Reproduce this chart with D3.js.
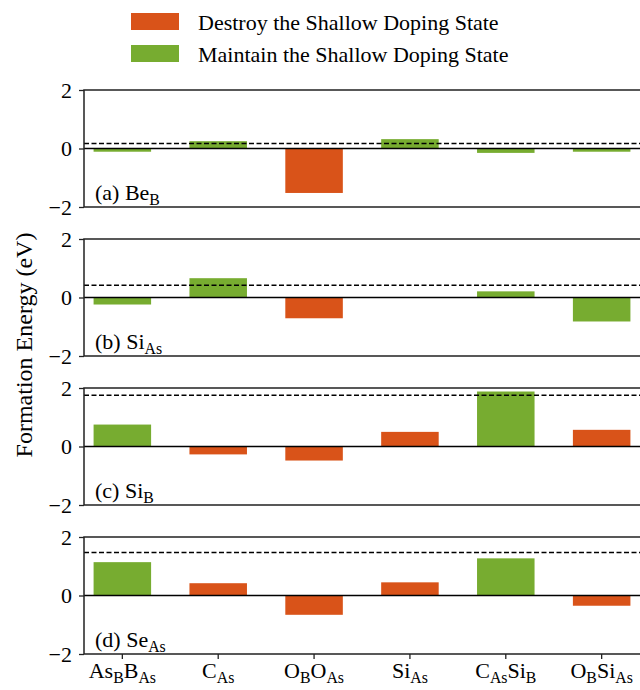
<!DOCTYPE html>
<html>
<head>
<style>
  body { margin: 0; background: #fff; }
  text { font-family: "Liberation Serif", "Times New Roman", serif; fill: #000; }
</style>
</head>
<body>
<script src="https://cdn.jsdelivr.net/npm/d3@7"></script>
<script>

// categories, written as [base, subscript] pieces
const categories = ['AsBBAs', 'CAs', 'OBOAs', 'SiAs', 'CAsSiB', 'OBSiAs'];
const categoryLabels = [
  [['As', 'B'], ['B', 'As']],
  [['C', 'As']],
  [['O', 'B'], ['O', 'As']],
  [['Si', 'As']],
  [['C', 'As'], ['Si', 'B']],
  [['O', 'B'], ['Si', 'As']]
];

const panelLabels = [['(a) Be', 'B'], ['(b) Si', 'As'], ['(c) Si', 'B'], ['(d) Se', 'As']];

// formation energies (eV), null = no bar
const valuesBeB  = [-0.11, 0.25, -1.52, 0.32, -0.15, -0.11];
const valuesSiAs = [-0.24, 0.66, -0.71, null, 0.21, -0.82];
const valuesSiB  = [0.75, -0.27, -0.48, 0.50, 1.88, 0.57];
const valuesSeAs = [1.14, 0.42, -0.66, 0.45, 1.27, -0.35];

// D = destroy, M = maintain
const stateBeB  = ['M', 'M', 'D', 'M', 'M', 'M'];
const stateSiAs = ['M', 'M', 'D', 'M', 'M', 'M'];
const stateSiB  = ['M', 'D', 'D', 'D', 'M', 'D'];
const stateSeAs = ['M', 'D', 'D', 'D', 'M', 'D'];

const thresholds = [0.17, 0.42, 1.75, 1.47];
const yTicks = [-2, 0, 2];

const legendLabels = ['Destroy the Shallow Doping State', 'Maintain the Shallow Doping State'];

const panels = [
  { values: valuesBeB, states: stateBeB },
  { values: valuesSiAs, states: stateSiAs },
  { values: valuesSiB, states: stateSiB },
  { values: valuesSeAs, states: stateSeAs }
];

const width = 640;
const height = 690;
const left = 84;
const right = 640;
const panelTop = 90;
const panelStep = 149;
const panelH = 117;
const fontSize = 22;

const color = d3.scaleOrdinal().domain(['D', 'M']).range(['#d95319', '#77ac30']);

const svg = d3.select('body')
              .append('svg')
              .attr('width', width)
              .attr('height', height);

const x = d3.scaleBand()
            .domain(categories)
            .range([left, right])
            .paddingInner(0.4)
            .paddingOuter(0.1);

// write text with subscripts into a text element
const writeSub = (sel, parts, size) => {
  const shift = size * 0.22;
  parts.forEach(([base, sub], k) => {
    sel.append('tspan').attr('dy', k > 0 ? -shift : 0).text(base);
    sel.append('tspan').attr('dy', shift).attr('font-size', size * 0.72).text(sub);
  });
};

panels.forEach((p, i) => {
  const top = panelTop + i * panelStep;
  const y = d3.scaleLinear().domain([-2, 2]).range([top + panelH, top]);
  const g = svg.append('g');

  g.selectAll('rect')
   .data(p.values.map((v, j) => ({ v, s: p.states[j], c: categories[j] })).filter(d => d.v !== null))
   .enter()
   .append('rect')
   .attr('x', d => x(d.c))
   .attr('width', x.bandwidth())
   .attr('y', d => y(Math.max(0, d.v)))
   .attr('height', d => Math.abs(y(d.v) - y(0)))
   .attr('fill', d => color(d.s));

  // zero line
  g.append('line')
   .attr('x1', left).attr('x2', right)
   .attr('y1', y(0)).attr('y2', y(0))
   .attr('stroke', '#000').attr('stroke-width', 1.5);

  // threshold
  g.append('line')
   .attr('x1', left).attr('x2', right)
   .attr('y1', y(thresholds[i])).attr('y2', y(thresholds[i]))
   .attr('stroke', '#000').attr('stroke-width', 1.5)
   .attr('stroke-dasharray', '5,2.5');

  // frame
  g.append('path')
   .attr('d', `M${right},${y(2)}H${left}V${y(-2)}H${right}`)
   .attr('fill', 'none').attr('stroke', '#222').attr('stroke-width', 1.5);

  const yAxis = g.append('g')
   .attr('transform', `translate(${left},0)`)
   .call(d3.axisLeft(y).tickValues(yTicks).tickSize(5).tickPadding(7)
           .tickFormat(d => d < 0 ? '\u2212' + Math.abs(d) : d));
  yAxis.select('.domain').remove();
  yAxis.selectAll('line').attr('stroke', '#222').attr('stroke-width', 1.3);
  yAxis.selectAll('text').attr('font-size', fontSize).attr('dy', '0.34em');

  const lab = g.append('text')
   .attr('x', left + 11)
   .attr('y', y(-2) - 7)
   .attr('font-size', fontSize);
  writeSub(lab, [panelLabels[i]], fontSize);

  if (i === panels.length - 1) {
    const xAxis = g.append('g')
      .attr('transform', `translate(0,${y(-2)})`)
      .call(d3.axisBottom(x).tickSize(5).tickFormat(''));
    xAxis.select('.domain').remove();
    xAxis.selectAll('line').attr('stroke', '#222').attr('stroke-width', 1.3);
    categories.forEach((c, j) => {
      const t = svg.append('text')
        .attr('x', x(c) + x.bandwidth() / 2)
        .attr('y', y(-2) + 24)
        .attr('text-anchor', 'middle')
        .attr('font-size', fontSize);
      writeSub(t, categoryLabels[j], fontSize);
    });
  }
});

svg.append('text')
   .attr('transform', 'translate(32,345) rotate(-90)')
   .attr('text-anchor', 'middle')
   .attr('font-size', 24)
   .text('Formation Energy (eV)');

const legend = svg.append('g');
legendLabels.forEach((l, i) => {
  legend.append('rect')
    .attr('x', 131).attr('y', 13 + i * 32)
    .attr('width', 48).attr('height', 17)
    .attr('fill', color(i === 0 ? 'D' : 'M'));
  legend.append('text')
    .attr('x', 198).attr('y', 30 + i * 32)
    .attr('font-size', fontSize)
    .text(l);
});

</script>
</body>
</html>
